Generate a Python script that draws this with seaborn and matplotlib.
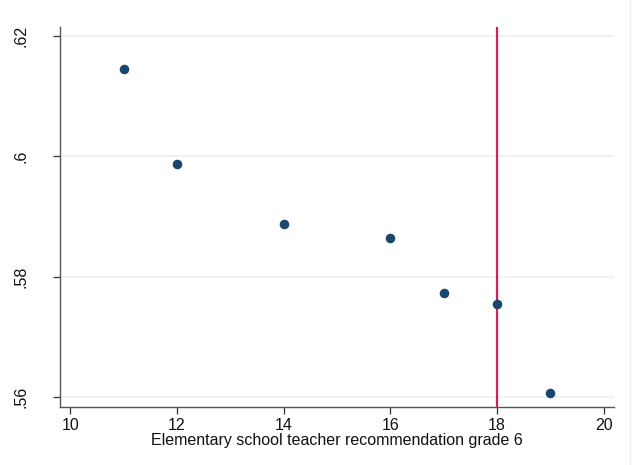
import matplotlib
matplotlib.use("Agg")
import matplotlib.pyplot as plt
from matplotlib.lines import Line2D
import seaborn as sns
import pandas as pd

# Teacher recommendation grade vs. mean outcome
grade = [11, 12, 14, 16, 17, 18, 19]
outcome = [0.6145, 0.5987, 0.5888, 0.5864, 0.5773, 0.5755, 0.5607]
cutoff = 18
x_ticks = [10, 12, 14, 16, 18, 20]
y_ticks = [0.56, 0.58, 0.60, 0.62]
y_tick_labels = [".56", ".58", ".6", ".62"]
x_label = "Elementary school teacher recommendation grade 6"

sns.set_theme(style="white")
plt.rcParams["font.family"] = ["Liberation Sans", "DejaVu Sans"]

df = pd.DataFrame({"grade": grade, "outcome": outcome})

fig = plt.figure(figsize=(6.35, 4.65), dpi=100)
fig.patch.set_facecolor("white")
ax = fig.add_axes([60 / 635, 1 - 407 / 465, (614 - 60) / 635, (407 - 27) / 465])

ax.set_xlim(9.81, 20.19)
ax.set_ylim(0.5583, 0.6215)

for yv in y_ticks:
    ax.axhline(yv, color="#eaf0f3", linewidth=1.2, zorder=0)

ax.axvline(cutoff, color="#d62050", linewidth=1.6, zorder=2)

sns.scatterplot(data=df, x="grade", y="outcome", ax=ax, color="#1a476f",
                s=48, edgecolor="#1a476f", linewidth=0, zorder=3)

ax.set_xticks(x_ticks)
ax.set_xticklabels([str(v) for v in x_ticks], fontsize=11.5, color="#111111")
ax.set_yticks(y_ticks)
ax.set_yticklabels(y_tick_labels, fontsize=11.5, color="#111111",
                   rotation=90, va="center")
ax.set_xlabel(x_label, fontsize=11.5, color="#111111", labelpad=0)
ax.set_ylabel("")

ax.tick_params(axis="both", which="both", length=5, width=0.9,
               color="#333333", direction="out", pad=3,
               bottom=True, left=True)
ax.tick_params(axis="y", pad=18)

for side in ["top", "right"]:
    ax.spines[side].set_visible(False)
for side in ["left", "bottom"]:
    ax.spines[side].set_color("#555555")
    ax.spines[side].set_linewidth(1.0)

# faint outer border of the graph region
fig.add_artist(Line2D([630 / 635, 630 / 635], [0, 1], transform=fig.transFigure,
                      color="#eeeeee", linewidth=1.0))

fig.savefig("out.png", dpi=100, facecolor="white")
